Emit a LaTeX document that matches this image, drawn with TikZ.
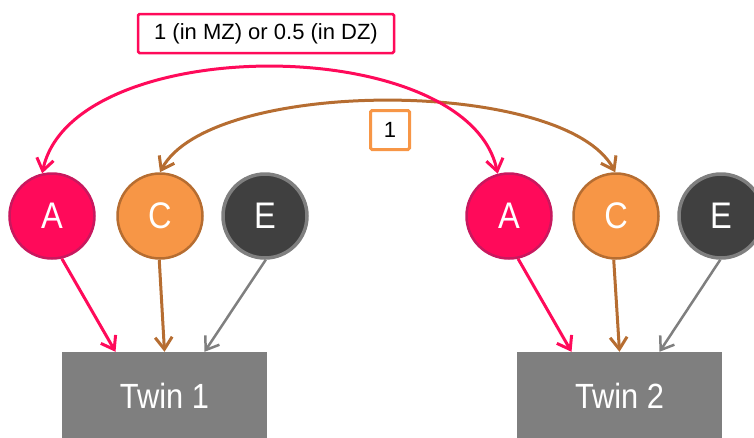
\documentclass[tikz,border=0pt]{standalone}
\usepackage{fontspec}
\setmainfont{Liberation Sans}
\newfontfamily\condsans[FakeStretch=0.88]{Liberation Sans}
\usetikzlibrary{arrows.meta}
\definecolor{apink}{HTML}{FF0A5A}
\definecolor{apinkdark}{HTML}{C8185E}
\definecolor{corange}{HTML}{F79646}
\definecolor{cbrown}{HTML}{B66D31}
\definecolor{edark}{HTML}{404040}
\definecolor{egrey}{HTML}{7F7F7F}
\begin{document}
\begin{tikzpicture}[x=1pt,y=-1pt,
  latent/.style={circle, minimum size=85pt, inner sep=0pt, line width=2.5pt,
    text=white, font=\condsans\fontsize{37}{37}\selectfont},
  latA/.style={latent, fill=apink, draw=apinkdark},
  latC/.style={latent, fill=corange, draw=cbrown},
  latE/.style={latent, fill=edark, draw=egrey, line width=3.5pt, minimum size=84pt},
  twinbox/.style={rectangle, fill=egrey, inner sep=0pt, minimum width=205pt,
    minimum height=88pt, text=white, font=\condsans\fontsize{35}{35}\selectfont},
  effect/.style={line width=3pt, -{Straight Barb[length=12pt,width=17pt]}},
  corr/.style={line width=3pt,
    {Straight Barb[length=12pt,width=17pt]}-{Straight Barb[length=12pt,width=17pt]}},
  lab/.style={draw, fill=white, inner sep=0pt, text=black, rounded corners=1.5pt,
    font=\fontsize{22}{22}\selectfont}
]
\useasboundingbox (0,0) rectangle (754,437);

% twin 1 components
\node[latA] (a1) at (52,216) {A};
\node[latC] (c1) at (160,216) {C};
\node[latE] (e1) at (265,216) {E};
% twin 2 components
\node[latA] (a2) at (509,216) {A};
\node[latC] (c2) at (616,216) {C};
\node[latE] (e2) at (721,216) {E};

% observed phenotypes
\node[twinbox] (t1) at (164.5,396) {Twin 1};
\node[twinbox] (t2) at (619.5,396) {Twin 2};

% paths from components to phenotypes
\draw[effect, apink] (a1.-77) -- ([xshift=-49pt]t1.north);
\draw[effect, cbrown] (c1.-91) -- (t1.north);
\draw[effect, egrey, line width=2.5pt] (e1.-89) -- ([xshift=40pt]t1.north);
\draw[effect, apink] (a2.-78) -- ([xshift=-48pt]t2.north);
\draw[effect, cbrown] (c2.-93) -- (t2.north);
\draw[effect, egrey, line width=2.5pt] (e2.-91) -- ([xshift=40pt]t2.north);

% correlations between twins
\draw[corr, cbrown] (c1.90) .. controls +(50,-95) and +(-50,-95) .. (c2.91);
\draw[corr, apink] (a1.103) .. controls +(30,-142) and +(-30,-142) .. (a2.105);

% correlation labels
\node[lab, draw=apink, line width=2.5pt, minimum width=256pt, minimum height=39pt]
  (rA) at (266,33.5) {1 (in MZ) or 0.5 (in DZ)};
\node[lab, draw=corange, line width=3pt, minimum width=39pt, minimum height=39pt]
  (rC) at (390,130) {1};
\end{tikzpicture}
\end{document}
